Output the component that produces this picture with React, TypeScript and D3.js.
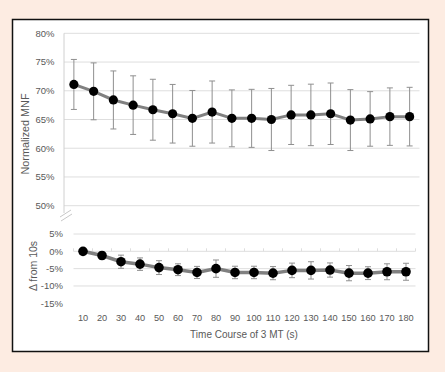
import React from "react";
import * as d3 from "d3";

const categories = ["10","20","30","40","50","60","70","80","90","100","110","120","130","140","150","160","170","180"];
const mnfMean = [71.1,69.9,68.4,67.5,66.7,66.0,65.2,66.3,65.2,65.2,65.0,65.8,65.8,66.0,64.9,65.1,65.5,65.5];
const mnfSD = [4.35,4.95,5.05,5.1,5.3,5.1,4.85,5.4,4.95,5.05,5.4,5.15,5.35,5.35,5.3,4.75,5.0,5.1];
const deltaMean = [0,-1.2,-3.0,-3.7,-4.7,-5.3,-6.1,-5.0,-6.1,-6.1,-6.3,-5.5,-5.5,-5.4,-6.3,-6.3,-5.9,-5.9];
const deltaSD = [0.2,1.0,1.9,1.8,2.0,1.7,1.75,2.5,1.8,1.8,1.9,2.1,2.5,2.05,2.2,1.85,2.3,2.45];
const topTicks = [50,55,60,65,70,75,80];
const bottomTicks = [-15,-10,-5,0,5];

const FONT = "'Liberation Sans', Arial, sans-serif";
const TXT = "#595959";
const GRID = "#dedede";
const ERR = "#8f8f8f";
const LINE = "#808080";

export default function App() {
  const W = 445, H = 372;
  const xTop = d3.scaleBand<string>().domain(categories).range([64, 419.5]);
  const xBot = d3.scaleBand<string>().domain(categories).range([73.5, 415.5]);
  const yTop = d3.scaleLinear().domain([50, 80]).range([205.7, 33.3]);
  const yBot = d3.scaleLinear().domain([-15, 5]).range([303.3, 234]);
  const cx = (s: d3.ScaleBand<string>, c: string) => (s(c) as number) + s.bandwidth() / 2;

  const topLine = d3.line<number>().x((_, i) => cx(xTop, categories[i])).y((d) => yTop(d));
  const botLine = d3.line<number>().x((_, i) => cx(xBot, categories[i])).y((d) => yBot(d));
  const cap = 3;

  return (
    <svg width={W} height={H} style={{ position: "absolute", left: 0, top: 0 }} fontFamily={FONT}>
      <rect x={0} y={0} width={W} height={H} fill="#fdece2" />
      <rect x={12.5} y={19.5} width={416} height={332} fill="#ffffff" stroke="#111" strokeWidth={1.5} />

      {/* top panel grid */}
      {topTicks.map((t) => (
        <g key={"tt" + t}>
          <line x1={64} x2={419.5} y1={yTop(t)} y2={yTop(t)} stroke={GRID} strokeWidth={1} />
          <text x={54.5} y={yTop(t)} dy="0.35em" textAnchor="end" fontSize={9.5} fill={TXT}>{t}%</text>
        </g>
      ))}
      <line x1={64} x2={64} y1={33.3} y2={213} stroke="#d0d0d0" strokeWidth={1} />
      <line x1={60} x2={71} y1={217} y2={210} stroke="#c8c8c8" strokeWidth={1} />
      <line x1={61} x2={72} y1={221} y2={214} stroke="#c8c8c8" strokeWidth={1} />

      {/* top error bars */}
      {categories.map((c, i) => {
        const x = cx(xTop, c);
        const y1 = yTop(mnfMean[i] + mnfSD[i]);
        const y2 = yTop(mnfMean[i] - mnfSD[i]);
        return (
          <g key={"te" + c} stroke={ERR} strokeWidth={1}>
            <line x1={x} x2={x} y1={y1} y2={y2} />
            <line x1={x - cap} x2={x + cap} y1={y1} y2={y1} />
            <line x1={x - cap} x2={x + cap} y1={y2} y2={y2} />
          </g>
        );
      })}
      <path d={topLine(mnfMean) || ""} fill="none" stroke={LINE} strokeWidth={3} />
      {categories.map((c, i) => (
        <circle key={"tp" + c} cx={cx(xTop, c)} cy={yTop(mnfMean[i])} r={4.6} fill="#000" />
      ))}

      {/* bottom panel grid */}
      {bottomTicks.map((t) => (
        <g key={"bt" + t}>
          {t !== -15 && (
            <line x1={73.5} x2={415.5} y1={yBot(t)} y2={yBot(t)} stroke={GRID} strokeWidth={1} />
          )}
          <text x={63} y={yBot(t)} dy="0.35em" textAnchor="end" fontSize={9.5} fill={TXT}>{t}%</text>
        </g>
      ))}
      {categories.map((c) => (
        <line key={"bk" + c} x1={xBot(c) as number} x2={xBot(c) as number} y1={yBot(0)} y2={yBot(0) - 3} stroke={GRID} strokeWidth={1} />
      ))}
      <line x1={415.5} x2={415.5} y1={yBot(0)} y2={yBot(0) - 3} stroke={GRID} strokeWidth={1} />

      {categories.map((c, i) => {
        const x = cx(xBot, c);
        const y1 = yBot(deltaMean[i] + deltaSD[i]);
        const y2 = yBot(deltaMean[i] - deltaSD[i]);
        return (
          <g key={"be" + c} stroke={ERR} strokeWidth={1}>
            <line x1={x} x2={x} y1={y1} y2={y2} />
            <line x1={x - cap} x2={x + cap} y1={y1} y2={y1} />
            <line x1={x - cap} x2={x + cap} y1={y2} y2={y2} />
          </g>
        );
      })}
      <path d={botLine(deltaMean) || ""} fill="none" stroke={LINE} strokeWidth={3.5} />
      {categories.map((c, i) => (
        <circle key={"bp" + c} cx={cx(xBot, c)} cy={yBot(deltaMean[i])} r={4.8} fill="#000" />
      ))}

      {/* x tick labels */}
      {categories.map((c) => (
        <text key={"xl" + c} x={cx(xBot, c)} y={320.5} textAnchor="middle" fontSize={9.2} fill={TXT}>{c}</text>
      ))}
      <text x={244} y={337.5} textAnchor="middle" fontSize={10} fill={TXT}>Time Course of 3 MT (s)</text>

      <text transform="translate(29,134) rotate(-90)" textAnchor="middle" fontSize={10.8} fill={TXT}>Normalized MNF</text>
      <text transform="translate(36.5,266) rotate(-90)" textAnchor="middle" fontSize={10.5} fill={TXT}>Δ from 10s</text>
    </svg>
  );
}
